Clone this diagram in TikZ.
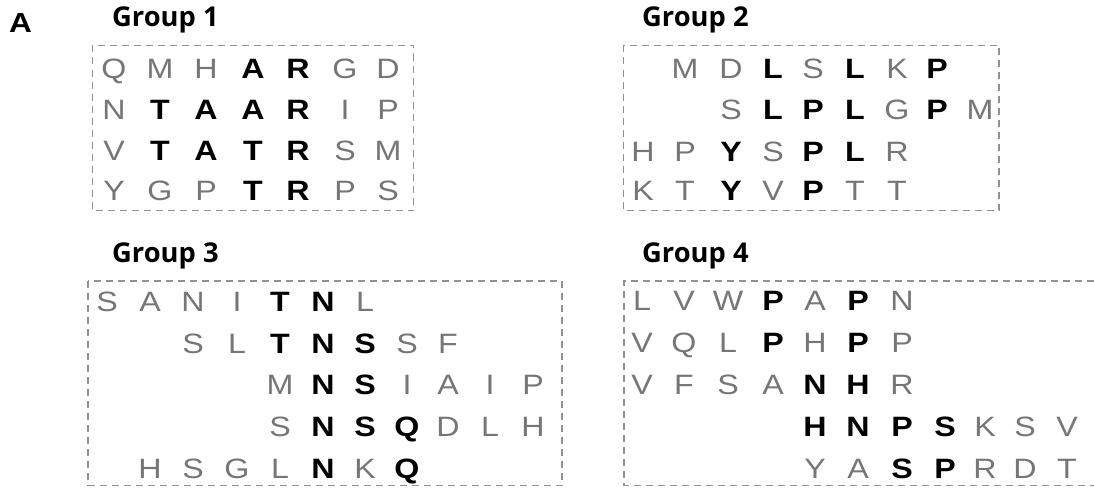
\documentclass[tikz,border=0pt]{standalone}
\usepackage{fontspec}
\newfontfamily\lfont[FakeStretch=1.15]{Liberation Sans}
\newfontfamily\tfont{Open Sans}
\definecolor{lgray}{RGB}{118,118,118}
\definecolor{boxgray}{RGB}{145,145,145}
\newcommand\letterrow[4]{%
  \foreach \c/\l/\s in {#4}{%
    \pgfmathsetmacro\xx{#2[\c-1]}%
    \node[\s] (#1-\c) at (\xx,#3) {\l};%
  }%
}
\def\colsA{{114,160,206,253,298,345,388}}
\def\colsB{{643,685,731,773,813,855,897,937,980}}
\def\colsC{{107,150,193,237,280,323,365,407,448,490,533}}
\def\colsD{{642,684,728,773,815,858,902,945,985,1025,1067}}
\begin{document}
\begin{tikzpicture}[x=1pt,y=-1pt,
  lg/.style={font=\lfont\fontsize{28}{28}\selectfont, text=lgray, anchor=base, inner sep=0pt},
  bd/.style={font=\lfont\bfseries\fontsize{28}{28}\selectfont, text=black, anchor=base, inner sep=0pt},
  title/.style={font=\tfont\bfseries\fontsize{27.3}{27.3}\selectfont, anchor=base west, inner sep=0pt},
  panel/.style={font=\lfont\bfseries\fontsize{27.5}{27.5}\selectfont, anchor=base west, inner sep=0pt},
  groupbox/.style={draw=boxgray, line width=1.1pt, dash pattern=on 7pt off 5pt}]
\useasboundingbox (0,0) rectangle (1094,487);
\node[panel] (pA) at (9,32.5) {A};
\node[title] (t1) at (112,26.5) {Group 1};
\node[title] (t2) at (642,26.5) {Group 2};
\node[title] (t3) at (112,262) {Group 3};
\node[title] (t4) at (642,262) {Group 4};
% boxes
\draw[groupbox] (92.5,45.5) rectangle (413.5,210.5);
\draw[groupbox] (623.5,45.5) rectangle (999,210.5);
\draw[groupbox] (88,281) rectangle (562,485.5);
\draw[groupbox] (1094,281) -- (624,281) -- (624,485.5) -- (1094,485.5);
% group 1
\letterrow{a1}{\colsA}{78.5}{1/Q/lg,2/M/lg,3/H/lg,4/A/bd,5/R/bd,6/G/lg,7/D/lg}
\letterrow{a2}{\colsA}{119.5}{1/N/lg,2/T/bd,3/A/bd,4/A/bd,5/R/bd,6/I/lg,7/P/lg}
\letterrow{a3}{\colsA}{160.5}{1/V/lg,2/T/bd,3/A/bd,4/T/bd,5/R/bd,6/S/lg,7/M/lg}
\letterrow{a4}{\colsA}{200.5}{1/Y/lg,2/G/lg,3/P/lg,4/T/bd,5/R/bd,6/P/lg,7/S/lg}
% group 2
\letterrow{b1}{\colsB}{78.5}{2/M/lg,3/D/lg,4/L/bd,5/S/lg,6/L/bd,7/K/lg,8/P/bd}
\letterrow{b2}{\colsB}{119.5}{3/S/lg,4/L/bd,5/P/bd,6/L/bd,7/G/lg,8/P/bd,9/M/lg}
\letterrow{b3}{\colsB}{161}{1/H/lg,2/P/lg,3/Y/bd,4/S/lg,5/P/bd,6/L/bd,7/R/lg}
\letterrow{b4}{\colsB}{200.5}{1/K/lg,2/T/lg,3/Y/bd,4/V/lg,5/P/bd,6/T/lg,7/T/lg}
% group 3
\letterrow{c1}{\colsC}{311}{1/S/lg,2/A/lg,3/N/lg,4/I/lg,5/T/bd,6/N/bd,7/L/lg}
\letterrow{c2}{\colsC}{353}{3/S/lg,4/L/lg,5/T/bd,6/N/bd,7/S/bd,8/S/lg,9/F/lg}
\letterrow{c3}{\colsC}{394.5}{5/M/lg,6/N/bd,7/S/bd,8/I/lg,9/A/lg,10/I/lg,11/P/lg}
\letterrow{c4}{\colsC}{436.5}{5/S/lg,6/N/bd,7/S/bd,8/Q/bd,9/D/lg,10/L/lg,11/H/lg}
\letterrow{c5}{\colsC}{478}{2/H/lg,3/S/lg,4/G/lg,5/L/lg,6/N/bd,7/K/lg,8/Q/bd}
% group 4
\letterrow{d1}{\colsD}{310.5}{1/L/lg,2/V/lg,3/W/lg,4/P/bd,5/A/lg,6/P/bd,7/N/lg}
\letterrow{d2}{\colsD}{352.5}{1/V/lg,2/Q/lg,3/L/lg,4/P/bd,5/H/lg,6/P/bd,7/P/lg}
\letterrow{d3}{\colsD}{394.5}{1/V/lg,2/F/lg,3/S/lg,4/A/lg,5/N/bd,6/H/bd,7/R/lg}
\letterrow{d4}{\colsD}{436.5}{5/H/bd,6/N/bd,7/P/bd,8/S/bd,9/K/lg,10/S/lg,11/V/lg}
\letterrow{d5}{\colsD}{478}{5/Y/lg,6/A/lg,7/S/bd,8/P/bd,9/R/lg,10/D/lg,11/T/lg}
\end{tikzpicture}
\end{document}
